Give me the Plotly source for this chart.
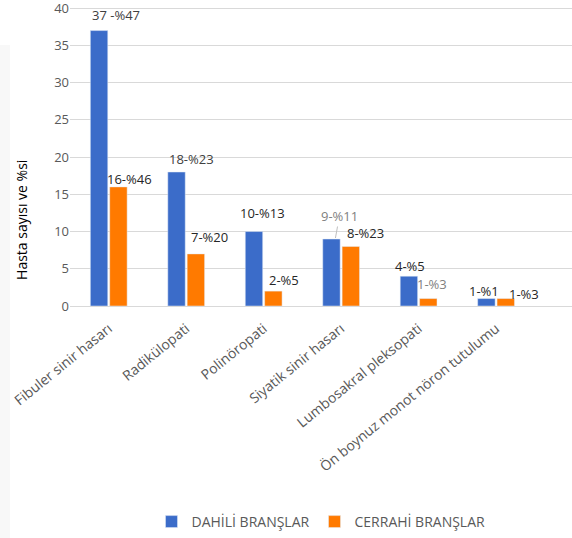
import plotly.graph_objects as go

categories = ["Fibuler sinir hasarı", "Radikülopati", "Polinöropati",
              "Siyatik sinir hasarı", "Lumbosakral pleksopati",
              "Ön boynuz monot nöron tutulumu"]
dahili = [37, 18, 10, 9, 4, 1]
cerrahi = [16, 7, 2, 8, 1, 1]
dahili_labels = ["37 -%47", "18-%23", "10-%13", "9-%11", "4-%5", "1-%1"]
cerrahi_labels = ["16-%46", "7-%20", "2-%5", "8-%23", "1-%3", "1-%3"]
y_ticks = [0, 5, 10, 15, 20, 25, 30, 35, 40]

# label placement styles (pixel nudges, colours)
BAR_OFF = 9.7
dahili_dx = [17, 15, 9, 4, 1, -2]
dahili_dy = [5, 2, 8, 0, -1, -3]
dahili_col = ["#404040", "#404040", "#262626", "#7F7F7F", "#262626", "#262626"]
cerrahi_dx = [11, 14, 11, 15, 4, 18]
cerrahi_dy = [-3, 6, 0, 2, 4, -6]
cerrahi_col = ["#262626", "#262626", "#262626", "#262626", "#7F7F7F", "#262626"]

fig = go.Figure()
fig.add_trace(go.Bar(name="DAHİLİ BRANŞLAR", x=categories, y=dahili,
                     marker=dict(color="#3B6CC9"), cliponaxis=False))
fig.add_trace(go.Bar(name="CERRAHİ BRANŞLAR", x=categories, y=cerrahi,
                     marker=dict(color="#FF7A00"), cliponaxis=False))

annotations = []
for i, c in enumerate(categories):
    if dahili_labels[i] == "9-%11":
        annotations.append(dict(
            x=c, y=dahili[i], text=dahili_labels[i], showarrow=True,
            arrowhead=0, arrowwidth=1, arrowcolor="#BFBFBF", ax=4, ay=-22,
            xshift=-BAR_OFF + 4, yshift=1,
            font=dict(size=13, color=dahili_col[i], family="Open Sans")))
    else:
        annotations.append(dict(
            x=c, y=dahili[i], text=dahili_labels[i], showarrow=False,
            yanchor="bottom", xshift=-BAR_OFF + dahili_dx[i], yshift=dahili_dy[i],
            font=dict(size=13, color=dahili_col[i], family="Open Sans")))
    annotations.append(dict(
        x=c, y=cerrahi[i], text=cerrahi_labels[i], showarrow=False,
        yanchor="bottom", xshift=BAR_OFF + cerrahi_dx[i], yshift=cerrahi_dy[i],
        font=dict(size=13, color=cerrahi_col[i], family="Open Sans")))

# y-axis title
annotations.append(dict(
    xref="paper", yref="paper", x=-0.0956, y=0.387, yshift=-30, text="Hasta sayısı ve %si",
    textangle=-90, showarrow=False, xanchor="center", yanchor="middle",
    font=dict(size=14, color="#000000", family="Open Sans")))

fig.update_layout(
    width=572, height=538,
    margin=dict(l=70, r=0, t=6, b=232),
    paper_bgcolor="white", plot_bgcolor="white",
    font=dict(family="Open Sans", color="#595959", size=12),
    barmode="group", bargap=0.5, bargroupgap=0.1,
    showlegend=True,
    annotations=annotations,
    shapes=[dict(type="rect", xref="paper", yref="paper",
                 x0=-0.1394, x1=-0.1195, y0=-0.78, y1=0.87,
                 fillcolor="#F8F8F8", line=dict(width=0), layer="below")],
    legend=dict(orientation="h", x=0.50, xanchor="center", y=-0.72, yanchor="middle",
                font=dict(size=14, color="#595959"), itemwidth=30),
    xaxis=dict(
        range=[-0.5, 5.98], tickangle=-39, showgrid=False,
        showline=True, linecolor="#D9D9D9", linewidth=1,
        tickfont=dict(size=14, color="#595959"), ticks="",
        ticklabelshift=0, ticklabelstandoff=8,
    ),
    yaxis=dict(
        range=[0, 40.3], tickvals=y_ticks, showgrid=True, gridcolor="#D9D9D9",
        zeroline=False, ticks="", tickfont=dict(size=13, color="#595959"),
        ticklabeloverflow="allow",
    ),
)

fig.write_html("out.html")
